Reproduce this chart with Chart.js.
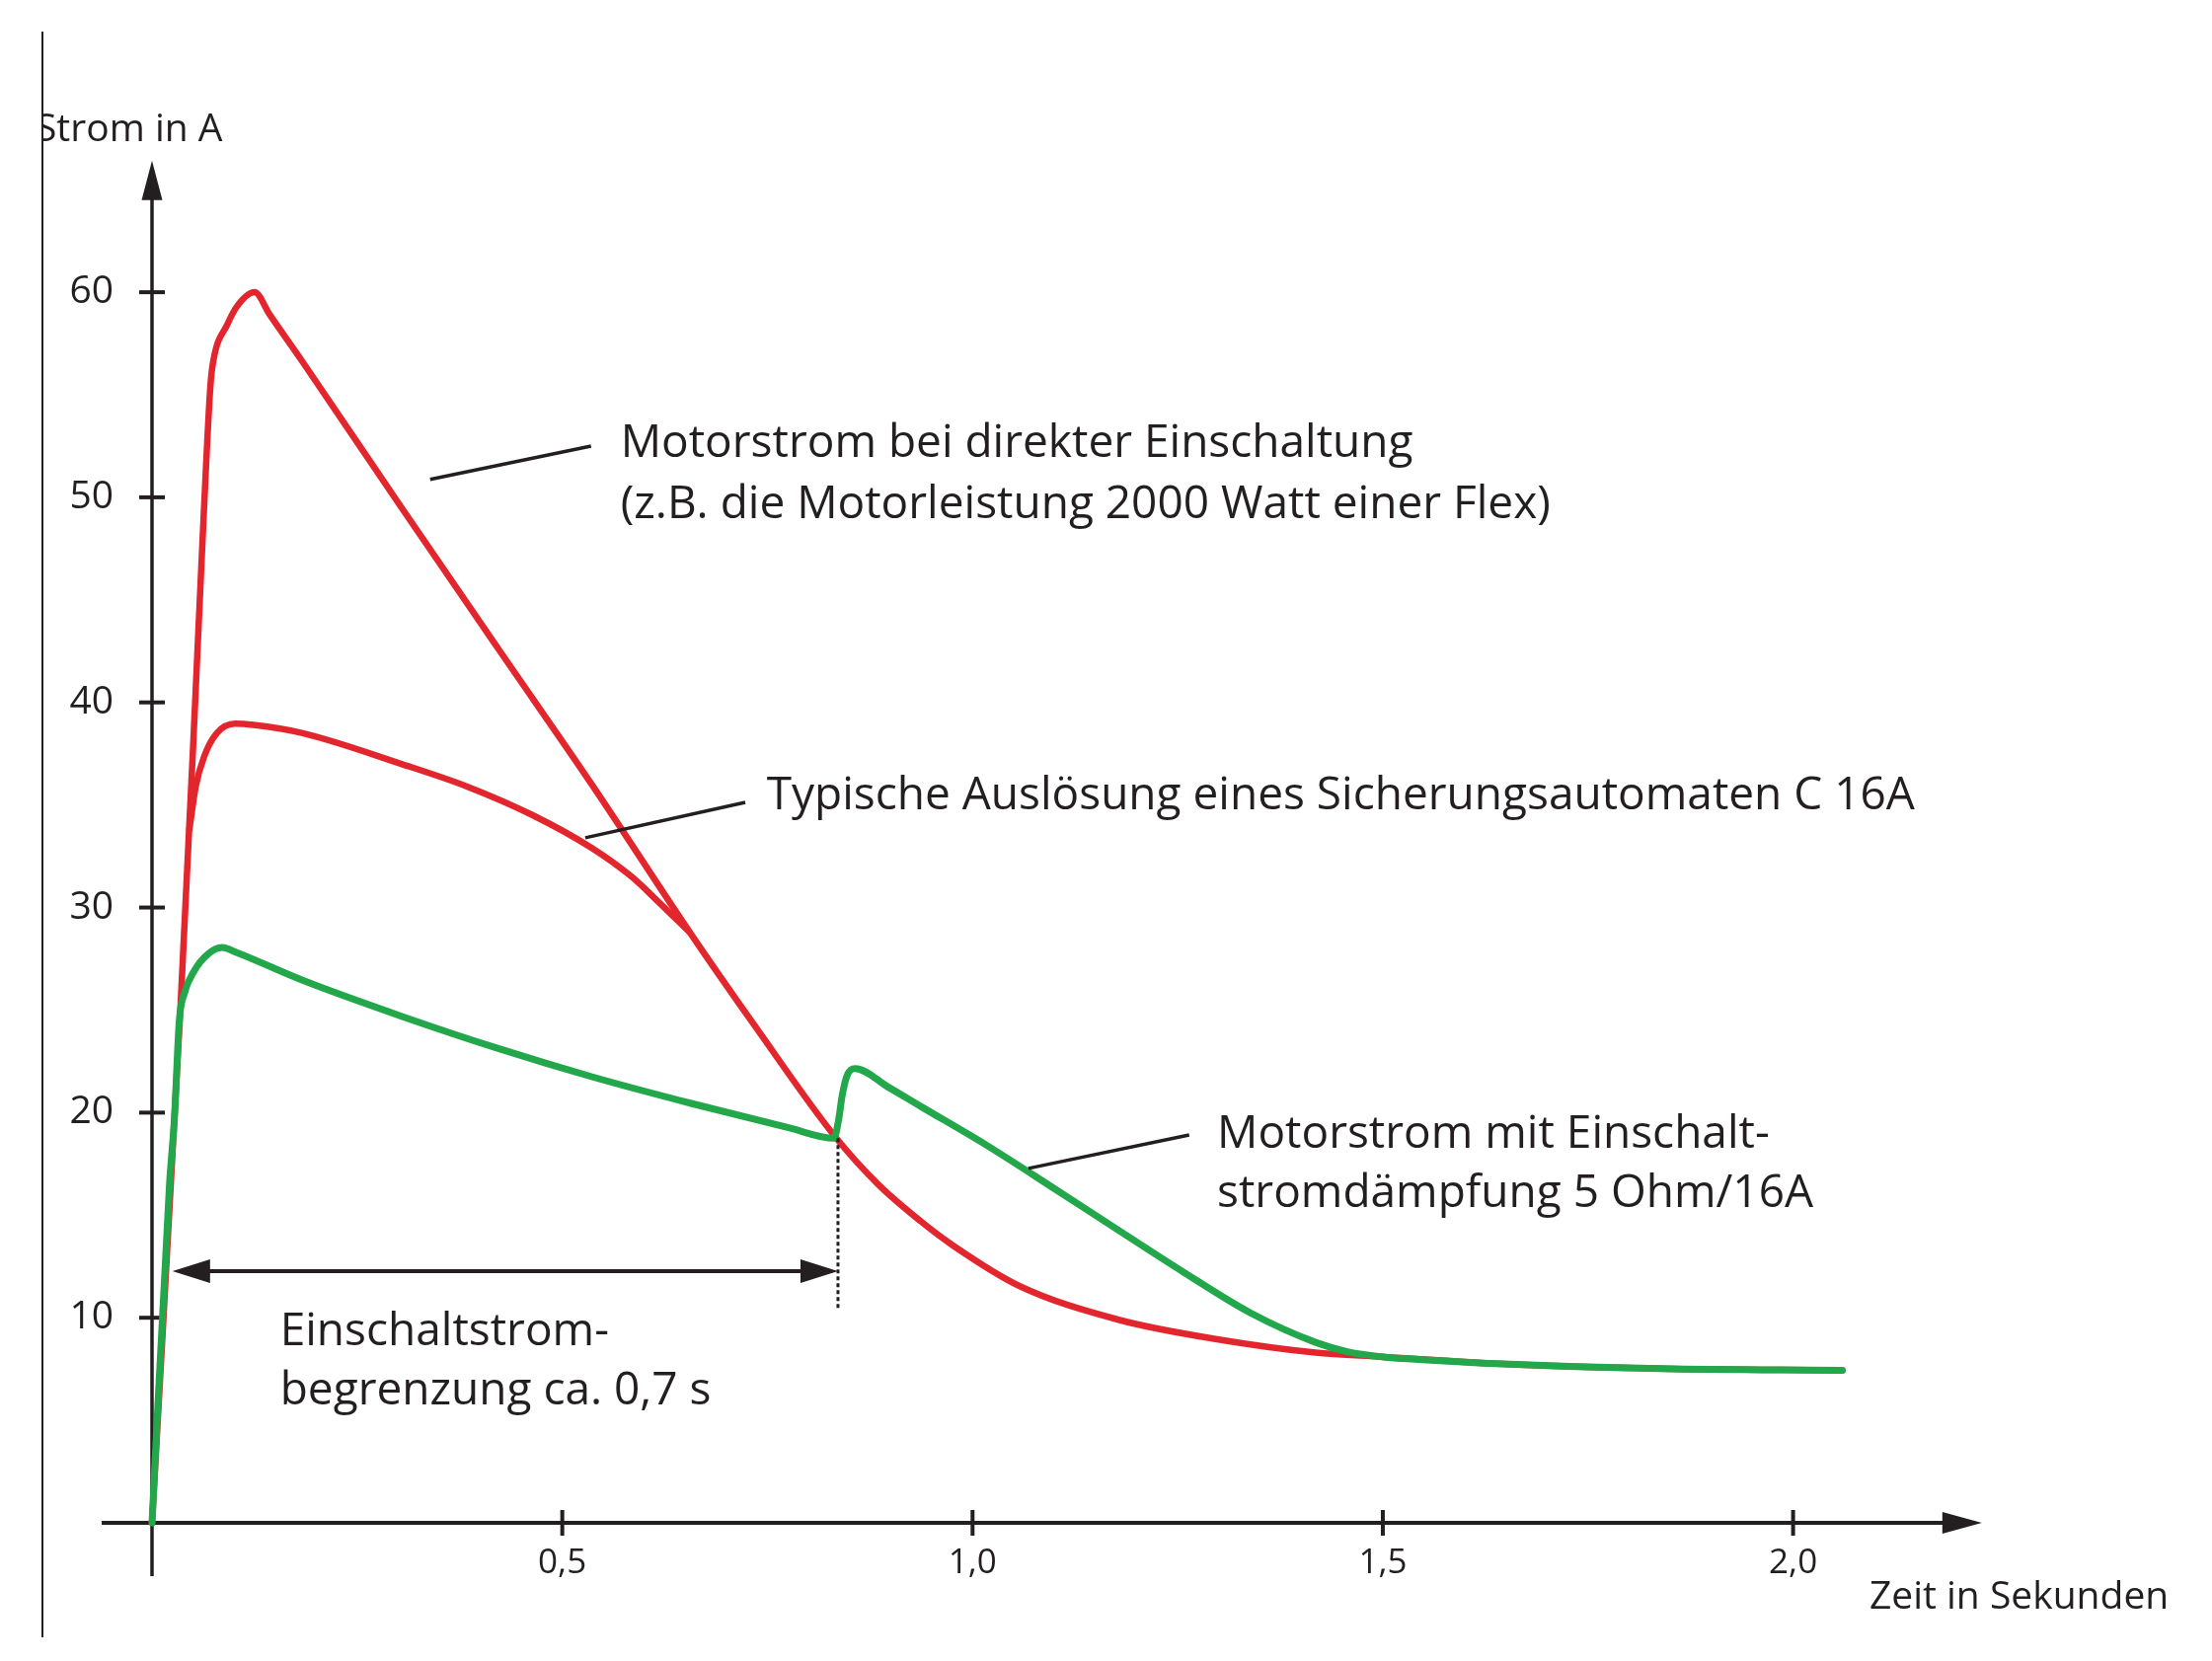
<!DOCTYPE html>
<html>
<head>
<meta charset="utf-8">
<script src="https://cdn.jsdelivr.net/npm/chart.js@4.4.1/dist/chart.umd.min.js"></script>
<style>
  html, body { margin: 0; padding: 0; background: #fff; }
  #wrap { width: 2241px; height: 1683px; position: relative; }
</style>
</head>
<body>
<div id="wrap"><canvas id="chart"></canvas></div>
<script>
// values (time in s, current in A)
const timeDirect = [0, 0.0349, 0.0505, 0.0625, 0.0713, 0.0754, 0.0914, 0.1034, 0.125, 0.1435, 0.1836, 0.304, 0.424, 0.536, 0.657, 0.737, 0.833, 0.885, 0.937, 0.977, 1.057, 1.178, 1.298, 1.418, 1.498, 1.639, 1.839, 2.06];
const currentDirect = [0, 25.3, 38.2, 48.7, 55.5, 56.8, 58.4, 59.3, 60.0, 58.9, 56.6, 49.5, 42.5, 36.0, 28.7, 24.1, 18.8, 16.5, 14.7, 13.5, 11.55, 9.9, 8.95, 8.3, 8.1, 7.76, 7.52, 7.44];

const timeBreaker = [0.0455, 0.0533, 0.0634, 0.079, 0.1014, 0.1235, 0.1836, 0.304, 0.384, 0.464, 0.536, 0.5845, 0.6166, 0.655];
const currentBreaker = [33.8, 35.9, 37.35, 38.5, 38.96, 38.9, 38.5, 37.0, 35.9, 34.5, 32.9, 31.5, 30.3, 28.8];

const timeDamped = [0, 0.0213, 0.0273, 0.0333, 0.0393, 0.0513, 0.0673, 0.0854, 0.1034, 0.1836, 0.304, 0.424, 0.536, 0.657, 0.777, 0.831, 0.837, 0.841, 0.847, 0.857, 0.897, 0.937, 1.0175, 1.0976, 1.178, 1.258, 1.338, 1.418, 1.458, 1.498, 1.559, 1.639, 1.839, 2.06];
const currentDamped = [0, 16.5, 19.7, 24.5, 25.8, 26.9, 27.7, 28.05, 27.8, 26.45, 24.7, 23.1, 21.75, 20.45, 19.25, 18.75, 19.7, 20.8, 21.8, 22.15, 21.25, 20.3, 18.4, 16.35, 14.26, 12.2, 10.25, 8.8, 8.33, 8.1, 7.93, 7.76, 7.52, 7.44];

const xTicks = [0.5, 1.0, 1.5, 2.0];
const yTicks = [10, 20, 30, 40, 50, 60];

// annotation texts: [time, current, text] (left edge, baseline)
const labels = [
  [0.571, 51.97, 'Motorstrom bei direkter Einschaltung'],
  [0.571, 48.99, '(z.B. die Motorleistung 2000 Watt einer Flex)'],
  [0.749, 34.79, 'Typische Auslösung eines Sicherungsautomaten C 16A'],
  [1.298, 18.29, 'Motorstrom mit Einschalt-'],
  [1.298, 15.40, 'stromdämpfung 5 Ohm/16A'],
  [0.156, 8.66, 'Einschaltstrom-'],
  [0.156, 5.77, 'begrenzung ca. 0,7 s']
];
// leader lines: [t1, v1, t2, v2]
const leaders = [
  [0.339, 50.87, 0.535, 52.50],
  [0.528, 33.40, 0.723, 35.13],
  [1.068, 17.28, 1.264, 18.91]
];
const limitStart = 0.025, limitEnd = 0.836, limitLevel = 12.27, limitDotBottom = 10.4;

const RED = '#e3262d';
const GREEN = '#22a84b';
const INK = '#231f20';
const FONT = "'Open Sans', sans-serif";

function pts(xs, ys) {
  return xs.map((x, i) => ({ x: x, y: ys[i] }));
}

function arrowHead(ctx, x, y, dx, dy, len, half) {
  // tip at (x,y), pointing in direction (dx,dy)
  const px = -dy, py = dx;
  ctx.beginPath();
  ctx.moveTo(x, y);
  ctx.lineTo(x - dx * len + px * half, y - dy * len + py * half);
  ctx.lineTo(x - dx * len - px * half, y - dy * len - py * half);
  ctx.closePath();
  ctx.fill();
}

const overlay = {
  id: 'overlay',
  beforeDatasetsDraw(chart) {
    const ctx = chart.ctx;
    const xs = chart.scales.x, ys = chart.scales.y;
    const x0 = xs.getPixelForValue(0), y0 = ys.getPixelForValue(0);
    ctx.save();
    ctx.strokeStyle = INK;
    ctx.fillStyle = INK;

    // thin frame line on the left
    ctx.lineWidth = 2;
    ctx.beginPath();
    ctx.moveTo(43, 32);
    ctx.lineTo(43, 1659);
    ctx.stroke();

    // x axis with arrow
    const xTip = xs.getPixelForValue(2.23);
    ctx.lineWidth = 4;
    ctx.beginPath();
    ctx.moveTo(xs.getPixelForValue(-0.0613), y0);
    ctx.lineTo(xTip - 30, y0);
    ctx.stroke();
    arrowHead(ctx, xTip, y0, 1, 0, 40, 11);

    // y axis with arrow
    const yTip = ys.getPixelForValue(66.41);
    ctx.lineWidth = 3.5;
    ctx.beginPath();
    ctx.moveTo(x0, ys.getPixelForValue(-2.6));
    ctx.lineTo(x0, yTip + 30);
    ctx.stroke();
    arrowHead(ctx, x0, yTip, 0, -1, 40, 10.5);

    // tick marks
    ctx.lineWidth = 4;
    yTicks.forEach(v => {
      const y = ys.getPixelForValue(v);
      ctx.beginPath();
      ctx.moveTo(x0 - 13, y);
      ctx.lineTo(x0 + 13, y);
      ctx.stroke();
    });
    xTicks.forEach(t => {
      const x = xs.getPixelForValue(t);
      ctx.beginPath();
      ctx.moveTo(x, y0 - 13);
      ctx.lineTo(x, y0 + 13);
      ctx.stroke();
    });
    ctx.restore();
  },
  afterDatasetsDraw(chart) {
    const ctx = chart.ctx;
    const xs = chart.scales.x, ys = chart.scales.y;
    const px = t => xs.getPixelForValue(t);
    const py = v => ys.getPixelForValue(v);
    ctx.save();
    ctx.strokeStyle = INK;
    ctx.fillStyle = INK;

    // leader lines
    ctx.lineWidth = 3.5;
    leaders.forEach(l => {
      ctx.beginPath();
      ctx.moveTo(px(l[0]), py(l[1]));
      ctx.lineTo(px(l[2]), py(l[3]));
      ctx.stroke();
    });

    // double arrow for the limiting time
    const ya = py(limitLevel);
    ctx.lineWidth = 4;
    ctx.beginPath();
    ctx.moveTo(px(limitStart) + 30, ya);
    ctx.lineTo(px(limitEnd) - 30, ya);
    ctx.stroke();
    arrowHead(ctx, px(limitStart), ya, -1, 0, 38, 12);
    arrowHead(ctx, px(limitEnd), ya, 1, 0, 38, 12);

    // dotted marker down from the switch point
    ctx.lineWidth = 3;
    ctx.setLineDash([4, 3]);
    ctx.beginPath();
    ctx.moveTo(px(limitEnd), py(18.75));
    ctx.lineTo(px(limitEnd), py(limitDotBottom));
    ctx.stroke();
    ctx.setLineDash([]);

    // annotation texts
    ctx.font = '46px ' + FONT;
    ctx.textAlign = 'left';
    ctx.textBaseline = 'alphabetic';
    labels.forEach(l => ctx.fillText(l[2], px(l[0]), py(l[1])));

    // axis titles
    ctx.font = '39px ' + FONT;
    ctx.fillText('Strom in A', px(-0.142), py(67.37));
    ctx.font = '39px ' + FONT;
    ctx.fillText('Zeit in Sekunden', px(2.093), py(-4.19));

    // the picture is cut at the frame line on the left
    ctx.fillStyle = '#fff';
    ctx.fillRect(0, 0, 42, 300);
    ctx.strokeStyle = INK;
    ctx.lineWidth = 2;
    ctx.beginPath();
    ctx.moveTo(43, 32);
    ctx.lineTo(43, 300);
    ctx.stroke();
    ctx.restore();
  }
};

const ctx = document.getElementById('chart').getContext('2d');
new Chart(ctx, {
  type: 'scatter',
  data: {
    datasets: [
      {
        label: 'Motorstrom mit Einschaltstromdämpfung 5 Ohm/16A',
        data: pts(timeDamped, currentDamped),
        borderColor: GREEN,
        borderWidth: 7,
        order: 1
      },
      {
        label: 'Typische Auslösung eines Sicherungsautomaten C 16A',
        data: pts(timeBreaker, currentBreaker),
        borderColor: RED,
        borderWidth: 6.5,
        order: 2
      },
      {
        label: 'Motorstrom bei direkter Einschaltung',
        data: pts(timeDirect, currentDirect),
        borderColor: RED,
        borderWidth: 6.5,
        order: 3
      }
    ].map(d => Object.assign(d, {
      showLine: true,
      pointRadius: 0,
      fill: false,
      clip: false,
      cubicInterpolationMode: 'monotone',
      borderJoinStyle: 'round',
      borderCapStyle: 'round'
    }))
  },
  options: {
    responsive: true,
    maintainAspectRatio: false,
    devicePixelRatio: 1,
    animation: false,
    layout: { padding: { left: 0, top: 161, right: 175, bottom: 0 } },
    plugins: { legend: { display: false }, tooltip: { enabled: false } },
    scales: {
      x: {
        type: 'linear',
        min: 0,
        max: 2.3,
        grid: { display: false },
        border: { display: false },
        afterFit: s => { s.height = 140; },
        ticks: {
          stepSize: 0.5,
          includeBounds: false,
          padding: 12,
          color: INK,
          font: { family: FONT, size: 35 },
          callback: v => xTicks.includes(v) ? v.toFixed(1).replace('.', ',') : ''
        }
      },
      y: {
        type: 'linear',
        min: 0,
        max: 66.5,
        grid: { display: false },
        border: { display: false },
        afterFit: s => { s.width = 154; },
        ticks: {
          stepSize: 10,
          includeBounds: false,
          padding: 31,
          color: INK,
          font: { family: FONT, size: 39 },
          callback: v => yTicks.includes(v) ? String(v) : ''
        }
      }
    }
  },
  plugins: [overlay]
});
</script>
</body>
</html>
